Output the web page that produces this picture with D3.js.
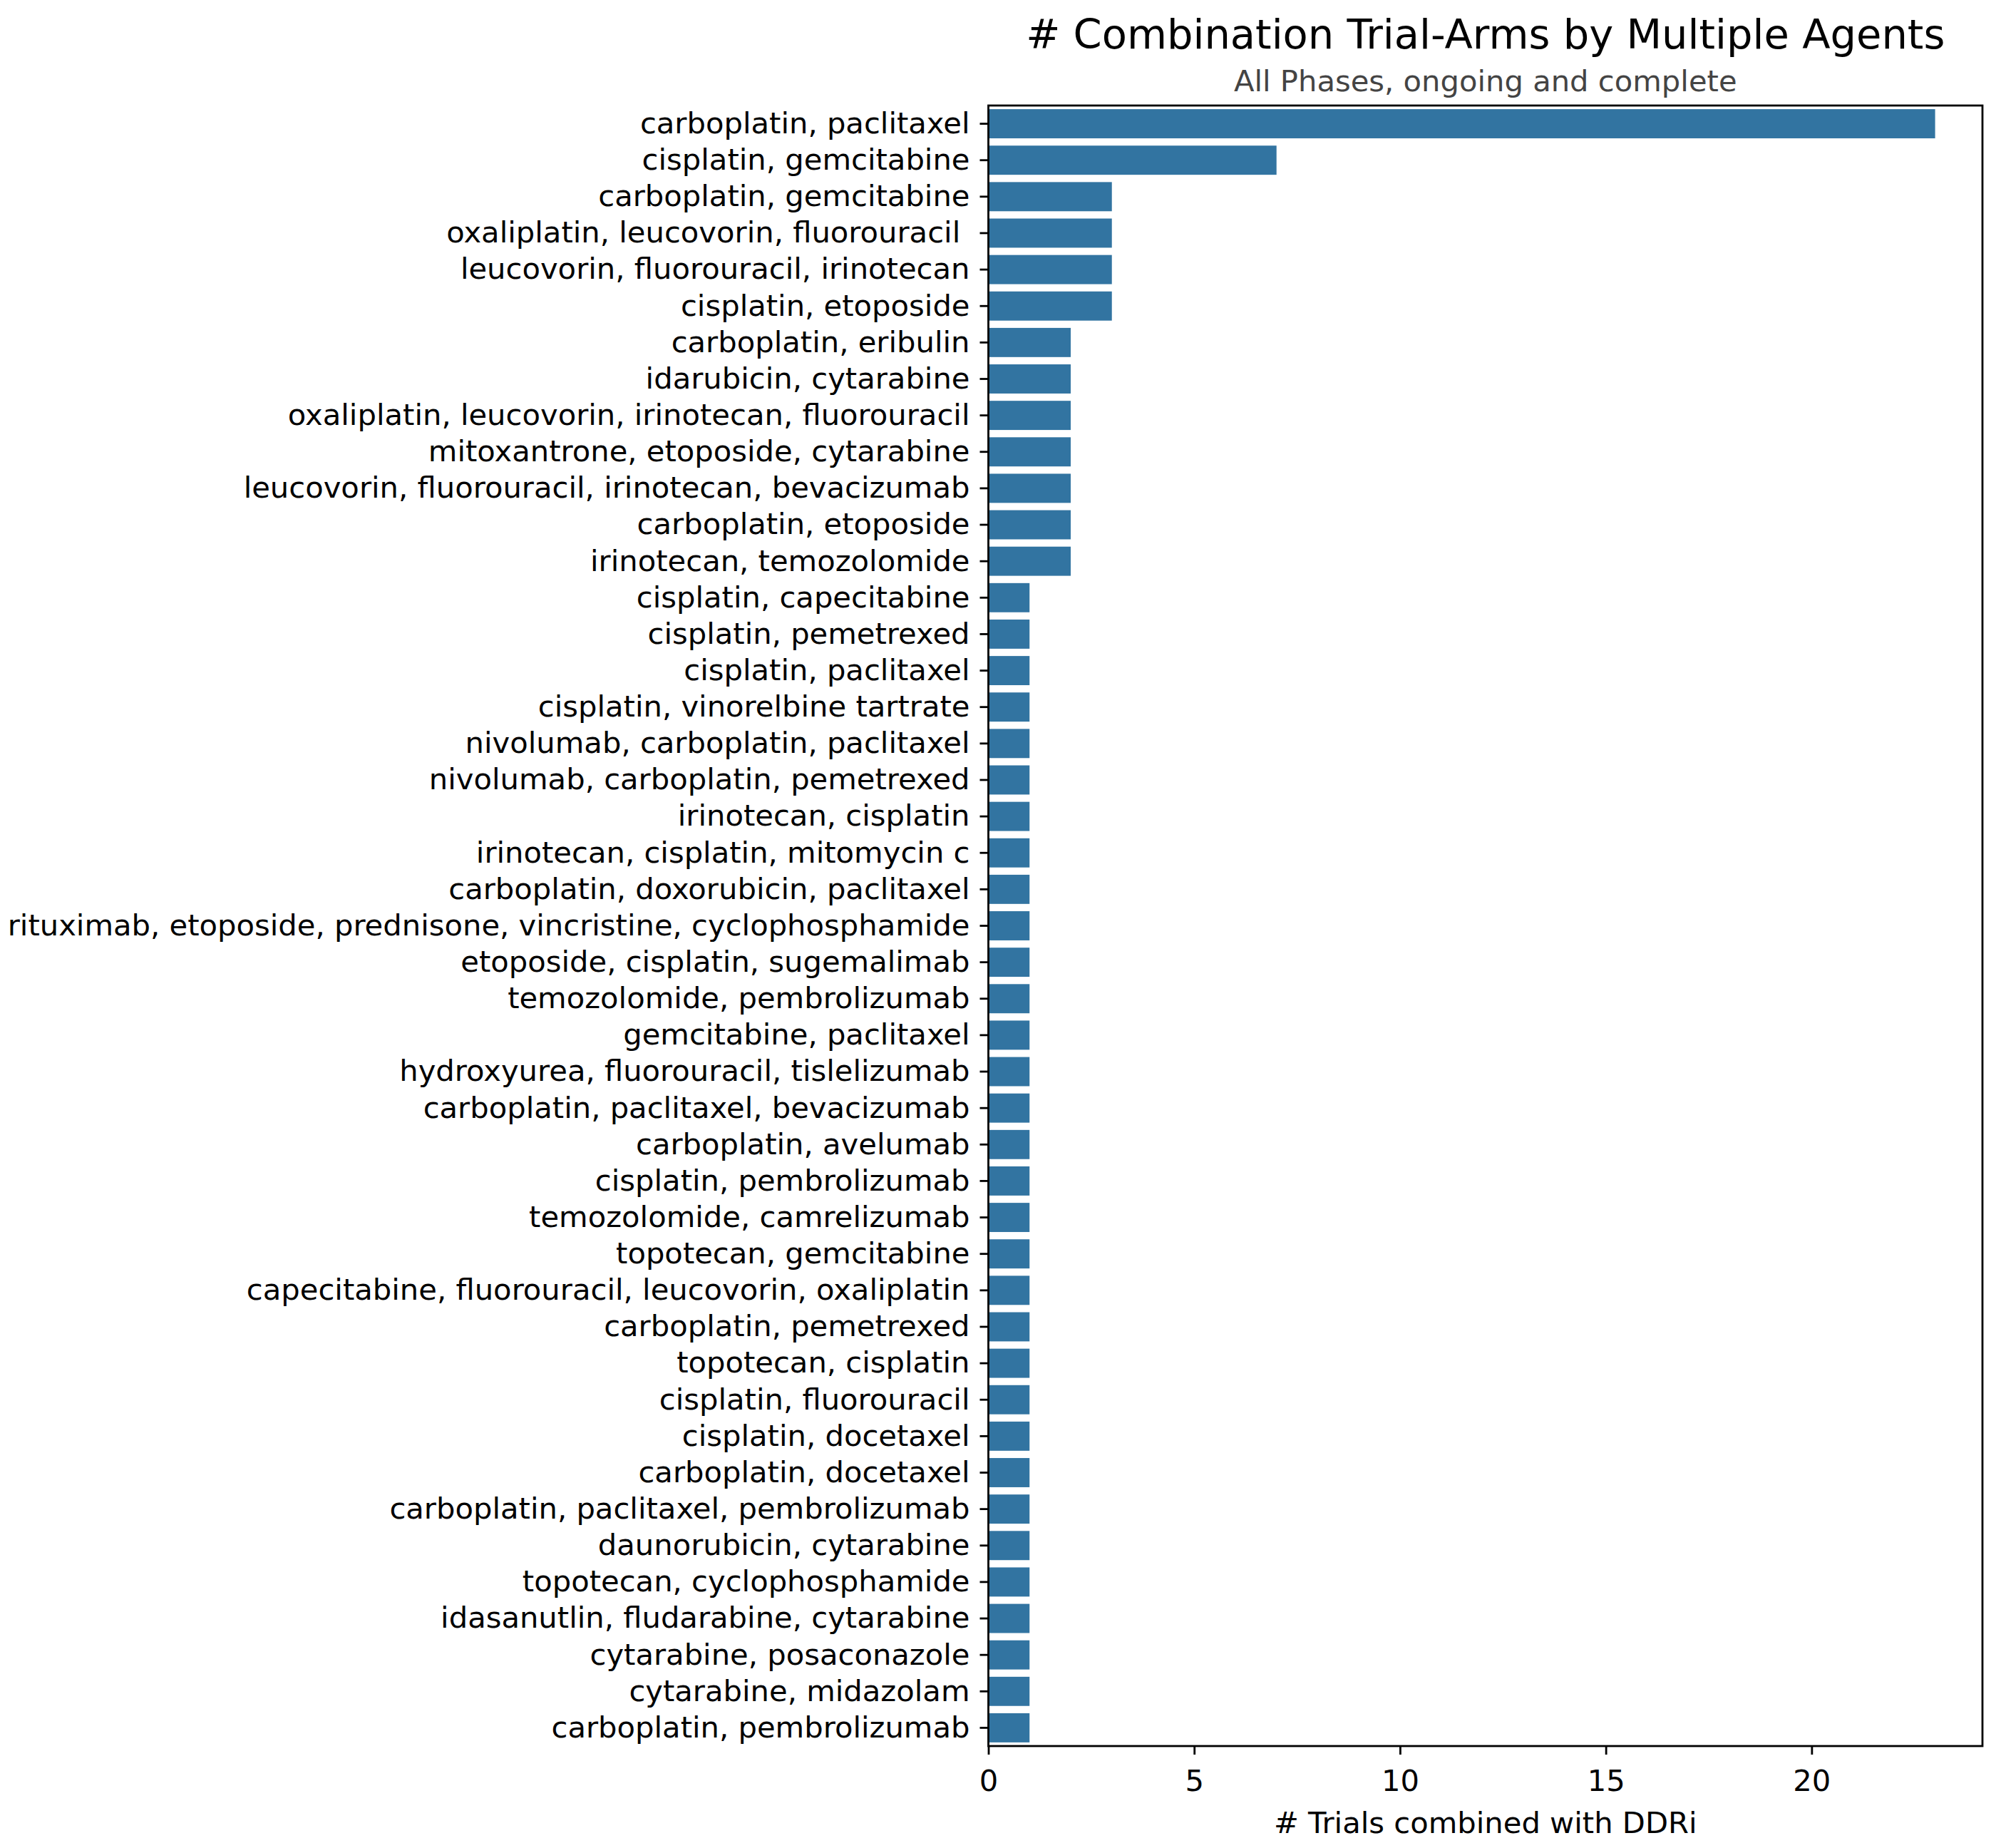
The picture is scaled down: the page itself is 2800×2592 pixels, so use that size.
<!DOCTYPE html>
<html>
<head>
<meta charset="utf-8">
<script src="https://cdn.jsdelivr.net/npm/d3@7"></script>
<style>
    body { margin: 0; background: #fff; }
    text { font-family: "DejaVu Sans", sans-serif; }
</style>
</head>
<body>
<div id="chart"></div>
<script>
// chart data
var combos = [
    "carboplatin, paclitaxel",
    "cisplatin, gemcitabine",
    "carboplatin, gemcitabine",
    "oxaliplatin, leucovorin, fluorouracil ",
    "leucovorin, fluorouracil, irinotecan",
    "cisplatin, etoposide",
    "carboplatin, eribulin",
    "idarubicin, cytarabine",
    "oxaliplatin, leucovorin, irinotecan, fluorouracil",
    "mitoxantrone, etoposide, cytarabine",
    "leucovorin, fluorouracil, irinotecan, bevacizumab",
    "carboplatin, etoposide",
    "irinotecan, temozolomide",
    "cisplatin, capecitabine",
    "cisplatin, pemetrexed",
    "cisplatin, paclitaxel",
    "cisplatin, vinorelbine tartrate",
    "nivolumab, carboplatin, paclitaxel",
    "nivolumab, carboplatin, pemetrexed",
    "irinotecan, cisplatin",
    "irinotecan, cisplatin, mitomycin c",
    "carboplatin, doxorubicin, paclitaxel",
    "rituximab, etoposide, prednisone, vincristine, cyclophosphamide",
    "etoposide, cisplatin, sugemalimab",
    "temozolomide, pembrolizumab",
    "gemcitabine, paclitaxel",
    "hydroxyurea, fluorouracil, tislelizumab",
    "carboplatin, paclitaxel, bevacizumab",
    "carboplatin, avelumab",
    "cisplatin, pembrolizumab",
    "temozolomide, camrelizumab",
    "topotecan, gemcitabine",
    "capecitabine, fluorouracil, leucovorin, oxaliplatin",
    "carboplatin, pemetrexed",
    "topotecan, cisplatin",
    "cisplatin, fluorouracil",
    "cisplatin, docetaxel",
    "carboplatin, docetaxel",
    "carboplatin, paclitaxel, pembrolizumab",
    "daunorubicin, cytarabine",
    "topotecan, cyclophosphamide",
    "idasanutlin, fludarabine, cytarabine",
    "cytarabine, posaconazole",
    "cytarabine, midazolam",
    "carboplatin, pembrolizumab"
];
var trialCounts = [
    23, 7, 3, 3, 3, 3, 2, 2, 2, 2, 2, 2, 2,
    1, 1, 1, 1, 1, 1, 1, 1, 1, 1, 1, 1, 1, 1, 1, 1, 1, 1, 1,
    1, 1, 1, 1, 1, 1, 1, 1, 1, 1, 1, 1, 1
];
var xTicks = [0, 5, 10, 15, 20];
var titleText = "# Combination Trial-Arms by Multiple Agents";
var subtitleText = "All Phases, ongoing and complete";
var xLabelText = "# Trials combined with DDRi";

var data = combos.map(function (c, i) { return { name: c, value: trialCounts[i] }; });

// size and margins
var margin = { top: 148, right: 19, bottom: 143, left: 1386.5 },
    width = 2800 - margin.left - margin.right,
    height = 2592 - margin.top - margin.bottom;

var fontSize = 41.7;

var svg = d3.select("#chart").append("svg")
    .attr("width", 2800)
    .attr("height", 2592);

svg.append("rect")
    .attr("width", 2800)
    .attr("height", 2592)
    .attr("fill", "#fff");

var g = svg.append("g")
    .attr("transform", "translate(" + margin.left + "," + margin.top + ")");

// scales
var x = d3.scaleLinear()
    .domain([0, d3.max(trialCounts) * 1.05])
    .range([0, width]);
var y = d3.scaleBand()
    .domain(combos)
    .range([0, height])
    .paddingInner(0.2)
    .paddingOuter(0.1);

// bars
g.selectAll(".bar")
    .data(data)
    .enter().append("rect")
    .attr("class", "bar")
    .attr("x", x(0))
    .attr("y", function (d) { return y(d.name); })
    .attr("width", function (d) { return x(d.value) - x(0); })
    .attr("height", y.bandwidth())
    .attr("fill", "#3274a1");

// y axis
var yAxis = g.append("g")
    .call(d3.axisLeft(y).tickSize(12).tickPadding(14));
yAxis.select(".domain").remove();
yAxis.selectAll(".tick line").attr("stroke", "#000").attr("stroke-width", 2.8);
yAxis.selectAll(".tick text")
    .style("white-space", "pre")
    .attr("fill", "#000")
    .attr("font-size", fontSize)
    .attr("font-family", "DejaVu Sans");

// x axis
var xAxis = g.append("g")
    .attr("transform", "translate(0," + height + ")")
    .call(d3.axisBottom(x).tickValues(xTicks).tickSize(12));
xAxis.select(".domain").remove();
xAxis.selectAll(".tick line").attr("stroke", "#000").attr("stroke-width", 2.8);
xAxis.selectAll(".tick text")
    .attr("y", 63)
    .attr("dy", 0)
    .attr("fill", "#000")
    .attr("font-size", fontSize)
    .attr("font-family", "DejaVu Sans");

// frame
g.append("rect")
    .attr("width", width)
    .attr("height", height)
    .attr("fill", "none")
    .attr("stroke", "#000")
    .attr("stroke-width", 2.8);

// titles
g.append("text")
    .attr("x", width / 2)
    .attr("y", 68 - margin.top)
    .attr("text-anchor", "middle")
    .attr("font-size", 57.5)
    .attr("fill", "#000")
    .text(titleText);

g.append("text")
    .attr("x", width / 2)
    .attr("y", 128 - margin.top)
    .attr("text-anchor", "middle")
    .attr("font-size", fontSize)
    .attr("fill", "#444")
    .text(subtitleText);

g.append("text")
    .attr("x", width / 2)
    .attr("y", height + 122)
    .attr("text-anchor", "middle")
    .attr("font-size", fontSize)
    .attr("fill", "#000")
    .text(xLabelText);
</script>
</body>
</html>
